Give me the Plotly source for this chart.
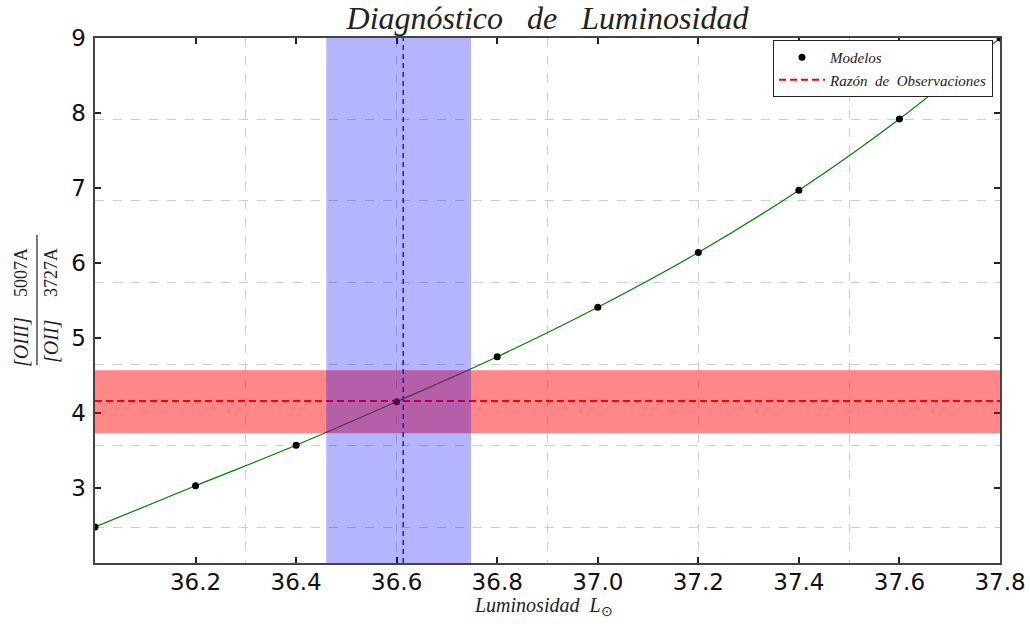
import plotly.graph_objects as go

# ---- data ----
luminosity = [36.0, 36.2, 36.4, 36.6, 36.8, 37.0, 37.2, 37.4, 37.6, 37.8]
ratio_models = [2.48, 3.03, 3.57, 4.15, 4.75, 5.41, 6.14, 6.97, 7.92, 9.0]

ratio_obs = 4.16
ratio_obs_lo = 3.73
ratio_obs_hi = 4.57

lum_obs = 36.613
lum_obs_lo = 36.46
lum_obs_hi = 36.748

x_ticks = [36.2, 36.4, 36.6, 36.8, 37.0, 37.2, 37.4, 37.6, 37.8]
x_tick_text = ["36.2", "36.4", "36.6", "36.8", "37.0", "37.2", "37.4", "37.6", "37.8"]
y_ticks = [3, 4, 5, 6, 7, 8, 9]
y_tick_text = ["3", "4", "5", "6", "7", "8", "9"]

x_grid = [36.0, 36.3, 36.6, 36.9, 37.2, 37.5, 37.8]
y_grid = [2.48, 3.567, 4.653, 5.74, 6.827, 7.913, 9.0]

x_range = [36.0, 37.8]
y_range = [2, 9]

SERIF = "Liberation Serif"
SANS = "DejaVu Sans"
AXC = "#444444"
NB = "\u00a0"

fig = go.Figure()

# model curve (smooth)
fig.add_trace(go.Scatter(
    x=luminosity, y=ratio_models, mode="lines",
    line=dict(color="#008000", width=1.2, shape="spline"),
    showlegend=False, hoverinfo="skip", xaxis="x2", yaxis="y2"))

# observed ratio line
fig.add_trace(go.Scatter(
    x=[min(luminosity), max(luminosity)], y=[ratio_obs, ratio_obs], mode="lines",
    line=dict(color="#ff0000", width=2, dash="7px,4px"),
    name="<i>Razón" + NB * 2 + "de" + NB * 2 + "Observaciones</i>", xaxis="x2", yaxis="y2"))

# model points
fig.add_trace(go.Scatter(
    x=luminosity, y=ratio_models, mode="markers",
    marker=dict(color="black", size=7),
    name="<i>Modelos</i>", xaxis="x2", yaxis="y2"))

# invisible trace for the grid axes
fig.add_trace(go.Scatter(x=x_range, y=y_range, mode="markers",
                         marker=dict(opacity=0), showlegend=False,
                         hoverinfo="skip", xaxis="x", yaxis="y"))

# bands
fig.add_shape(type="rect", xref="x2", yref="y2",
              x0=x_range[0], x1=x_range[1], y0=ratio_obs_lo, y1=ratio_obs_hi,
              fillcolor="rgba(255,0,0,0.47)", line=dict(width=0), layer="above")
fig.add_shape(type="rect", xref="x2", yref="paper",
              x0=lum_obs_lo, x1=lum_obs_hi, y0=0, y1=1,
              fillcolor="rgba(0,0,255,0.29)", line=dict(width=0), layer="above")
fig.add_shape(type="line", xref="x2", yref="paper",
              x0=lum_obs, x1=lum_obs, y0=0, y1=1,
              line=dict(color="#0000ff", width=1.3, dash="5px,4px"), layer="above")

def px(xp):
    return (xp - 95) / 905

def py(yp):
    return (563 - yp) / 525

# fraction bar of y label
fig.add_shape(type="line", xref="paper", yref="paper",
              x0=px(37), x1=px(37), y0=py(365), y1=py(235),
              line=dict(color="#222222", width=1.2))

ylab = [
    ("<i>[OIII]</i>", 21, 342, 20),
    ("5007A", 21, 273, 18),
    ("<i>[OII]</i>", 51, 342, 20),
    ("3727A", 51, 273, 18),
]
for txt, xx, yy, sz in ylab:
    fig.add_annotation(text=txt, x=px(xx), y=py(yy), xref="paper", yref="paper",
                       showarrow=False, textangle=-90, xanchor="center", yanchor="middle",
                       font=dict(family=SERIF, size=sz, color="#222222"))

# x axis title
fig.add_annotation(text="<i>Luminosidad" + NB * 2 + "L</i><sub>⊙</sub>", x=px(543), y=py(606),
                   xref="paper", yref="paper", showarrow=False,
                   xanchor="center", yanchor="middle",
                   font=dict(family=SERIF, size=20, color="#222222"))

fig.update_layout(
    width=1030, height=628,
    margin=dict(l=95, r=30, t=38, b=65, autoexpand=False),
    paper_bgcolor="white", plot_bgcolor="white",
    title=dict(text="<i>Diagnóstico" + NB * 3 + "de" + NB * 3 + "Luminosidad</i>",
               x=0.5, xref="paper", xanchor="center",
               y=1 - 18 / 628, yref="container", yanchor="middle",
               font=dict(family=SERIF, size=32, color="#222222")),
    xaxis=dict(range=x_range, tickvals=x_grid, showticklabels=False, ticks="",
               showgrid=True, gridcolor="#cccccc", griddash="dash", gridwidth=1,
               zeroline=False, showline=True, linecolor=AXC, linewidth=1.5, mirror=True,
               automargin=False),
    yaxis=dict(range=y_range, tickvals=y_grid, showticklabels=False, ticks="",
               showgrid=True, gridcolor="#cccccc", griddash="dash", gridwidth=1,
               zeroline=False, showline=True, linecolor=AXC, linewidth=1.5, mirror=True,
               automargin=False),
    xaxis2=dict(range=x_range, overlaying="x", anchor="y2", side="bottom",
                tickvals=x_ticks, ticktext=x_tick_text, ticks="inside", ticklen=6,
                tickwidth=1.5, tickcolor="#222222", mirror="ticks", showline=False,
                showgrid=False, zeroline=False, automargin=False, ticklabelstandoff=3,
                tickfont=dict(family=SANS, size=23, color="#111111")),
    yaxis2=dict(range=y_range, overlaying="y", anchor="x2", side="left",
                tickvals=y_ticks, ticktext=y_tick_text, ticks="inside", ticklen=6,
                tickwidth=1.5, tickcolor="#222222", mirror="ticks", showline=False,
                showgrid=False, zeroline=False, automargin=False, ticklabelstandoff=8,
                tickfont=dict(family=SANS, size=23, color="#111111")),
    legend=dict(x=px(993), y=py(40), xanchor="right", yanchor="top",
                bgcolor="white", bordercolor="#222222", borderwidth=1,
                font=dict(family=SERIF, size=15, color="#222222"),
                traceorder="reversed", itemwidth=46, tracegroupgap=0),
)

fig.write_html("out.html")
